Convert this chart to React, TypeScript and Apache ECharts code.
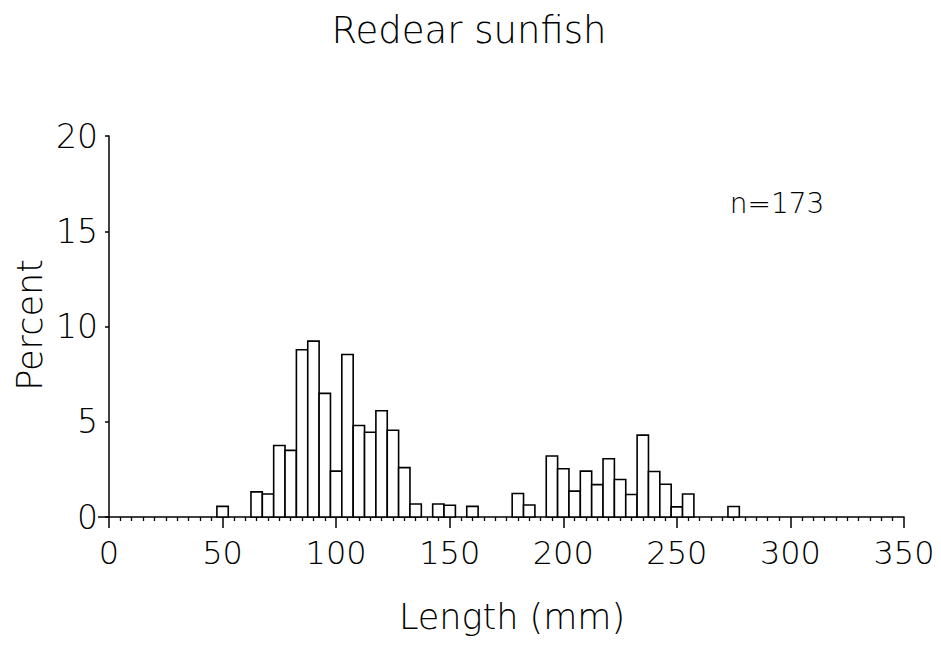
import React, { useEffect, useRef } from "react";
import * as echarts from "echarts";

const binWidth = 5;
const binCenters = [50, 65, 70, 75, 80, 85, 90, 95, 100, 105, 110, 115, 120, 125, 130, 135, 145, 150, 160, 180, 185, 195, 200, 205, 210, 215, 220, 225, 230, 235, 240, 245, 250, 255, 275];
const percents = [0.56, 1.32, 1.21, 3.75, 3.5, 8.78, 9.23, 6.49, 2.41, 8.53, 4.8, 4.45, 5.58, 4.55, 2.59, 0.68, 0.68, 0.62, 0.56, 1.23, 0.63, 3.2, 2.53, 1.36, 2.41, 1.7, 3.06, 1.97, 1.18, 4.3, 2.39, 1.72, 0.53, 1.21, 0.55];

const titleText = "Redear sunfish";
const xName = "Length (mm)";
const yName = "Percent";
const noteText = "n=173";

const FONT = "'DejaVu Sans', sans-serif";
const W = 941;
const H = 649;
const GRID = { left: 109, right: 37, top: 136, bottom: 132 };

export default function App() {
  const ref = useRef<HTMLDivElement>(null);
  useEffect(() => {
    if (!ref.current) return;
    const chart = echarts.init(ref.current, null, { renderer: "svg" });
    const data = binCenters.map((c, i) => [c, percents[i]]);
    const axisY = H - GRID.bottom;
    chart.setOption({
      animation: false,
      backgroundColor: "#fff",
      grid: { ...GRID },
      xAxis: {
        type: "value",
        min: 0,
        max: 350,
        interval: 50,
        axisLine: { show: true, lineStyle: { color: "#000", width: 1.5 } },
        axisTick: { show: true, inside: false, length: 11, lineStyle: { color: "#000", width: 1.5 } },
        minorTick: { show: true, splitNumber: 10, length: 4, lineStyle: { color: "#000", width: 1.3 } },
        splitLine: { show: false },
        axisLabel: { color: "#000", fontSize: 32, fontFamily: FONT, fontWeight: 200, margin: 20 },
      },
      yAxis: {
        type: "value",
        min: 0,
        max: 20,
        interval: 5,
        offset: 6,
        axisLine: { show: true, lineStyle: { color: "#000", width: 1.5 } },
        axisTick: { show: true, inside: false, length: 4, lineStyle: { color: "#000", width: 1.5 } },
        splitLine: { show: false },
        axisLabel: { color: "#000", fontSize: 33, fontFamily: FONT, fontWeight: 200, margin: 5 },
      },
      series: [
        {
          type: "custom",
          data,
          renderItem: (params: any, api: any) => {
            const x = api.value(0);
            const y = api.value(1);
            const p1 = api.coord([x - binWidth / 2, y]);
            const p2 = api.coord([x + binWidth / 2, 0]);
            return {
              type: "rect",
              shape: { x: p1[0], y: p1[1], width: p2[0] - p1[0], height: p2[1] - p1[1] },
              style: { fill: "#fff", stroke: "#000", lineWidth: 1.6 },
            };
          },
        },
      ],
      graphic: [
        {
          type: "line",
          shape: { x1: GRID.left - 11, y1: axisY, x2: GRID.left, y2: axisY },
          style: { stroke: "#000", lineWidth: 1.5 },
        },
        {
          type: "text",
          x: 469,
          y: 30,
          style: { text: titleText, fontSize: 37, fontFamily: FONT, fontWeight: 200, fill: "#000", align: "center", verticalAlign: "middle" },
        },
        {
          type: "text",
          x: 512,
          y: 617,
          style: { text: xName, fontSize: 35, fontFamily: FONT, fontWeight: 200, fill: "#000", align: "center", verticalAlign: "middle" },
        },
        {
          type: "text",
          x: 30,
          y: 325,
          rotation: Math.PI / 2,
          style: { text: yName, fontSize: 35, fontFamily: FONT, fontWeight: 200, fill: "#000", align: "center", verticalAlign: "middle" },
        },
        {
          type: "text",
          x: 777,
          y: 203,
          style: { text: noteText, fontSize: 28, fontFamily: FONT, fontWeight: 200, fill: "#000", align: "center", verticalAlign: "middle" },
        },
      ],
    });
    return () => chart.dispose();
  }, []);
  return <div ref={ref} style={{ position: "fixed", left: 0, top: 0, width: W, height: H }} />;
}
